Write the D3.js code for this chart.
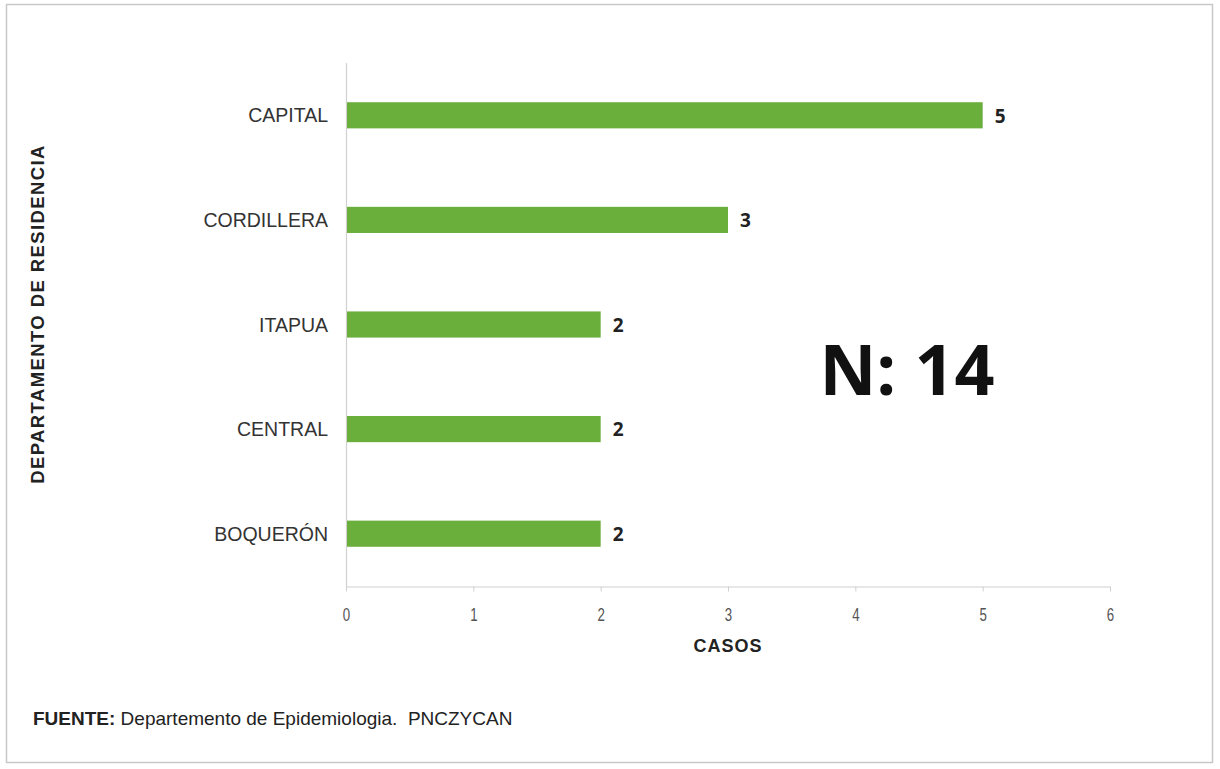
<!DOCTYPE html>
<html>
<head>
<meta charset="utf-8">
<script src="https://cdn.jsdelivr.net/npm/d3@7"></script>
<style>
  body { margin: 0; background: #fff; }
</style>
</head>
<body>
<script>
WIDTH = 1220;
HEIGHT = 769;
COLOR = "#6aae3b";

// data
var departamentos = ["CAPITAL", "CORDILLERA", "ITAPUA", "CENTRAL", "BOQUERÓN"];
var casos = [5, 3, 2, 2, 2];
var xTicks = [0, 1, 2, 3, 4, 5, 6];
var total = "N: 14";

var data = departamentos.map((d, i) => ({name: d, value: casos[i]}));

var svg = d3.select("body").append("svg")
    .attr("width", WIDTH)
    .attr("height", HEIGHT);

// outer frame
svg.append("rect")
    .attr("x", 6.5).attr("y", 4.5)
    .attr("width", 1206).attr("height", 758)
    .attr("fill", "#fff")
    .attr("stroke", "#c8c8c8")
    .attr("stroke-width", 1.5);

var x = d3.scaleLinear()
    .domain([0, 6])
    .range([346, 1110]);

var y = d3.scaleBand()
    .domain(departamentos)
    .range([63, 586])
    .paddingInner(0.75)
    .paddingOuter(0.375);

// x axis (tick digits are tall and narrow in the original)
var xAxis = g => g
    .attr("transform", "translate(0,586.5)")
    .call(d3.axisBottom(x).tickValues(xTicks).tickFormat(d3.format("d")).tickSize(5).tickSizeOuter(0))
    .call(g => g.select(".domain").attr("stroke", "#d0d0d0").attr("stroke-width", 1.2))
    .call(g => g.selectAll(".tick line").attr("stroke", "#d0d0d0"))
    .call(g => g.selectAll(".tick text")
        .attr("dy", 0).attr("y", 35)
        .attr("transform", "scale(0.7,1)")
        .attr("fill", "#555")
        .attr("font-family", "'Liberation Sans', sans-serif")
        .attr("font-size", 19));

svg.append("g").call(xAxis);

// y axis line
svg.append("line")
    .attr("x1", 346.5).attr("x2", 346.5)
    .attr("y1", 63).attr("y2", 587)
    .attr("stroke", "#d0d0d0")
    .attr("stroke-width", 1.2);

// bars
svg.selectAll(".bar")
    .data(data)
    .enter().append("rect")
    .attr("class", "bar")
    .attr("x", x(0) + 1)
    .attr("y", d => y(d.name))
    .attr("width", d => x(d.value) - x(0) - 1)
    .attr("height", y.bandwidth())
    .attr("fill", COLOR);

// value labels
svg.selectAll(".val")
    .data(data)
    .enter().append("text")
    .attr("class", "val")
    .attr("x", d => x(d.value) + 12)
    .attr("y", d => y(d.name) + y.bandwidth() / 2)
    .attr("dy", "0.38em")
    .attr("font-family", "'Open Sans', sans-serif")
    .attr("font-weight", "bold")
    .attr("font-size", 19)
    .attr("fill", "#222")
    .text(d => d.value);

// category labels
svg.selectAll(".cat")
    .data(data)
    .enter().append("text")
    .attr("class", "cat")
    .attr("x", 328)
    .attr("y", d => y(d.name) + y.bandwidth() / 2)
    .attr("dy", "0.36em")
    .attr("text-anchor", "end")
    .attr("font-family", "'Liberation Sans', Arial, sans-serif")
    .attr("font-size", 19.5)
    .attr("fill", "#333")
    .text(d => d.name);

// axis titles
svg.append("text")
    .attr("x", 728).attr("y", 652)
    .attr("text-anchor", "middle")
    .attr("font-family", "'Liberation Sans', Arial, sans-serif")
    .attr("font-weight", "bold")
    .attr("font-size", 18)
    .attr("letter-spacing", 1)
    .attr("fill", "#222")
    .text("CASOS");

svg.append("text")
    .attr("transform", "translate(44,314) rotate(-90)")
    .attr("text-anchor", "middle")
    .attr("font-family", "'Liberation Sans', Arial, sans-serif")
    .attr("font-weight", "bold")
    .attr("font-size", 18.5)
    .attr("letter-spacing", 1.4)
    .attr("fill", "#222")
    .text("DEPARTAMENTO DE RESIDENCIA");

// N total
svg.append("text")
    .attr("x", 907).attr("y", 395)
    .attr("text-anchor", "middle")
    .attr("font-family", "'Open Sans', sans-serif")
    .attr("font-weight", "bold")
    .attr("font-size", 70)
    .attr("fill", "#111")
    .text(total);

// source
var src = svg.append("text")
    .attr("x", 33).attr("y", 725)
    .attr("font-family", "'Liberation Sans', Arial, sans-serif")
    .attr("font-size", 19)
    .attr("fill", "#222");
src.append("tspan").attr("font-weight", "bold").text("FUENTE:");
src.append("tspan").attr("xml:space", "preserve").text(" Departemento de Epidemiologia.  PNCZYCAN");
</script>
</body>
</html>
